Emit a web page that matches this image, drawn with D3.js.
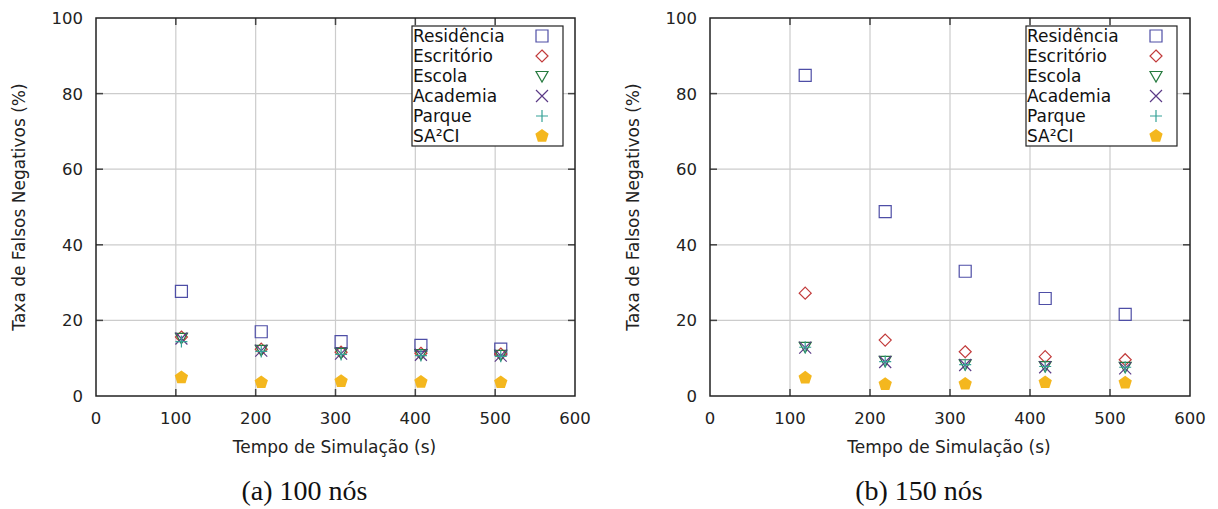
<!DOCTYPE html>
<html>
<head>
<meta charset="utf-8">
<script src="https://cdn.jsdelivr.net/npm/d3@7"></script>
<style>
  body { margin: 0; background: #fff; }
  svg { display: block; }
</style>
</head>
<body>
<div id="chart"></div>
<script>
const categories = ["Residência", "Escritório", "Escola", "Academia", "Parque", "SA²CI"];
const xTicks = [0, 100, 200, 300, 400, 500, 600];
const yTicks = [0, 20, 40, 60, 80, 100];

// (a) 100 nós
const times100 = [107, 207, 307, 407, 507];
const residencia100 = [27.7, 17.0, 14.4, 13.4, 12.4];
const escritorio100 = [15.6, 12.4, 11.6, 11.3, 11.1];
const escola100 = [15.4, 12.2, 11.4, 11.1, 10.9];
const academia100 = [15.2, 12.0, 11.2, 10.9, 10.7];
const parque100 = [14.4, 11.8, 11.0, 10.7, 10.5];
const sa2ci100 = [4.9, 3.6, 3.9, 3.7, 3.6];

// (b) 150 nós
const times150 = [119, 219, 319, 419, 519];
const residencia150 = [84.8, 48.8, 33.0, 25.8, 21.6];
const escritorio150 = [27.2, 14.8, 11.7, 10.4, 9.6];
const escola150 = [13.0, 9.3, 8.4, 7.9, 7.7];
const academia150 = [12.8, 9.0, 8.2, 7.6, 7.3];
const parque150 = [12.9, 9.1, 8.3, 7.8, 7.6];
const sa2ci150 = [4.8, 3.1, 3.2, 3.6, 3.5];

const markerTypes = ["square", "diamond", "triangleDown", "times", "plus", "pentagon"];
const markerColors = ["#4e4ea6", "#c23b3b", "#257a3e", "#5b3a86", "#35a297", "#f4b71e"];

const W = 1218, H = 509;
const plotTop = 18, plotBottom = 396;

function markerPath(type, r) {
    const p = d3.path();
    if (type === "square") {
        p.rect(-r, -r, 2 * r, 2 * r);
    } else if (type === "diamond") {
        p.moveTo(0, -r); p.lineTo(r, 0); p.lineTo(0, r); p.lineTo(-r, 0); p.closePath();
    } else if (type === "triangleDown") {
        p.moveTo(-r, -r * 0.75); p.lineTo(r, -r * 0.75); p.lineTo(0, r); p.closePath();
    } else if (type === "times") {
        p.moveTo(-r, -r); p.lineTo(r, r); p.moveTo(r, -r); p.lineTo(-r, r);
    } else if (type === "plus") {
        p.moveTo(-r, 0); p.lineTo(r, 0); p.moveTo(0, -r); p.lineTo(0, r);
    } else if (type === "pentagon") {
        for (let i = 0; i < 5; i++) {
            const a = -Math.PI / 2 + i * 2 * Math.PI / 5;
            const px = r * Math.cos(a), py = r * Math.sin(a);
            if (i === 0) p.moveTo(px, py); else p.lineTo(px, py);
        }
        p.closePath();
    }
    return p.toString();
}

function drawMarker(g, type, color, x, y) {
    const r = type === "pentagon" ? 7 : 6;
    g.append("path")
        .attr("transform", `translate(${x},${y})`)
        .attr("d", markerPath(type, r))
        .attr("fill", type === "pentagon" ? color : "none")
        .attr("stroke", type === "pentagon" ? "none" : color)
        .attr("stroke-width", 1.2);
}

const svg = d3.select("#chart").append("svg")
    .attr("width", W)
    .attr("height", H);

function drawPanel(left, right, times, series, caption) {
    const xScale = d3.scaleLinear().domain([0, 600]).range([left, right]);
    const yScale = d3.scaleLinear().domain([0, 100]).range([plotBottom, plotTop]);
    const g = svg.append("g");

    // grid
    g.selectAll(".vgrid")
        .data(xTicks.slice(1, -1))
        .enter().append("line")
        .attr("x1", d => xScale(d)).attr("x2", d => xScale(d))
        .attr("y1", plotTop).attr("y2", plotBottom)
        .attr("stroke", "#cccccc").attr("stroke-width", 1.2);
    g.selectAll(".hgrid")
        .data(yTicks.slice(1, -1))
        .enter().append("line")
        .attr("x1", left).attr("x2", right)
        .attr("y1", d => yScale(d)).attr("y2", d => yScale(d))
        .attr("stroke", "#cccccc").attr("stroke-width", 1.2);

    // ticks (inside, mirrored)
    xTicks.slice(1, -1).forEach(d => {
        g.append("line").attr("x1", xScale(d)).attr("x2", xScale(d))
            .attr("y1", plotBottom).attr("y2", plotBottom - 7)
            .attr("stroke", "#444").attr("stroke-width", 1.5);
        g.append("line").attr("x1", xScale(d)).attr("x2", xScale(d))
            .attr("y1", plotTop).attr("y2", plotTop + 7)
            .attr("stroke", "#444").attr("stroke-width", 1.5);
    });
    yTicks.slice(1, -1).forEach(d => {
        g.append("line").attr("x1", left).attr("x2", left + 7)
            .attr("y1", yScale(d)).attr("y2", yScale(d))
            .attr("stroke", "#444").attr("stroke-width", 1.5);
        g.append("line").attr("x1", right).attr("x2", right - 7)
            .attr("y1", yScale(d)).attr("y2", yScale(d))
            .attr("stroke", "#444").attr("stroke-width", 1.5);
    });

    // tick labels
    g.selectAll(".xlabel")
        .data(xTicks)
        .enter().append("text")
        .attr("x", d => xScale(d))
        .attr("y", plotBottom + 28)
        .attr("text-anchor", "middle")
        .attr("font-family", "DejaVu Sans")
        .attr("font-size", "16.5px")
        .attr("fill", "#222")
        .text(d => d);
    g.selectAll(".ylabel")
        .data(yTicks)
        .enter().append("text")
        .attr("x", left - 13)
        .attr("y", d => yScale(d))
        .attr("dy", "0.36em")
        .attr("text-anchor", "end")
        .attr("font-family", "DejaVu Sans")
        .attr("font-size", "16.5px")
        .attr("fill", "#222")
        .text(d => d);

    // axis titles
    g.append("text")
        .attr("x", (left + right) / 2 - 1)
        .attr("y", plotBottom + 57)
        .attr("text-anchor", "middle")
        .attr("font-family", "DejaVu Sans")
        .attr("font-size", "17px")
        .attr("fill", "#222")
        .text("Tempo de Simulação (s)");
    const ty = (plotTop + plotBottom) / 2;
    g.append("text")
        .attr("transform", `translate(${left - 71},${ty}) rotate(-90)`)
        .attr("text-anchor", "middle")
        .attr("font-family", "DejaVu Sans")
        .attr("font-size", "17px")
        .attr("fill", "#222")
        .text("Taxa de Falsos Negativos (%)");

    // border
    g.append("rect")
        .attr("x", left).attr("y", plotTop)
        .attr("width", right - left).attr("height", plotBottom - plotTop)
        .attr("fill", "none").attr("stroke", "#222").attr("stroke-width", 1.5);

    // points
    series.forEach((vals, si) => {
        vals.forEach((v, i) => drawMarker(g, markerTypes[si], markerColors[si], xScale(times[i]), yScale(v)));
    });

    // legend
    const lx = left + 316, ly = 26;
    g.append("rect")
        .attr("x", lx).attr("y", ly)
        .attr("width", 151).attr("height", 120)
        .attr("fill", "#fff").attr("stroke", "#222").attr("stroke-width", 1.2);
    categories.forEach((c, i) => {
        const cy = ly + 10 + i * 20;
        g.append("text")
            .attr("x", lx + 1)
            .attr("y", cy)
            .attr("dy", "0.36em")
            .attr("font-family", "DejaVu Sans")
            .attr("font-size", "17px")
            .attr("fill", "#111")
            .text(c);
        drawMarker(g, markerTypes[i], markerColors[i], lx + 130, cy);
    });

    // caption
    g.append("text")
        .attr("x", (left + right) / 2 - 31)
        .attr("y", 500)
        .attr("text-anchor", "middle")
        .attr("font-family", "Liberation Serif")
        .attr("font-size", "28px")
        .attr("fill", "#111")
        .text(caption);
}

drawPanel(96, 575, times100,
    [residencia100, escritorio100, escola100, academia100, parque100, sa2ci100], "(a) 100 nós");
drawPanel(710, 1190, times150,
    [residencia150, escritorio150, escola150, academia150, parque150, sa2ci150], "(b) 150 nós");
</script>
</body>
</html>
